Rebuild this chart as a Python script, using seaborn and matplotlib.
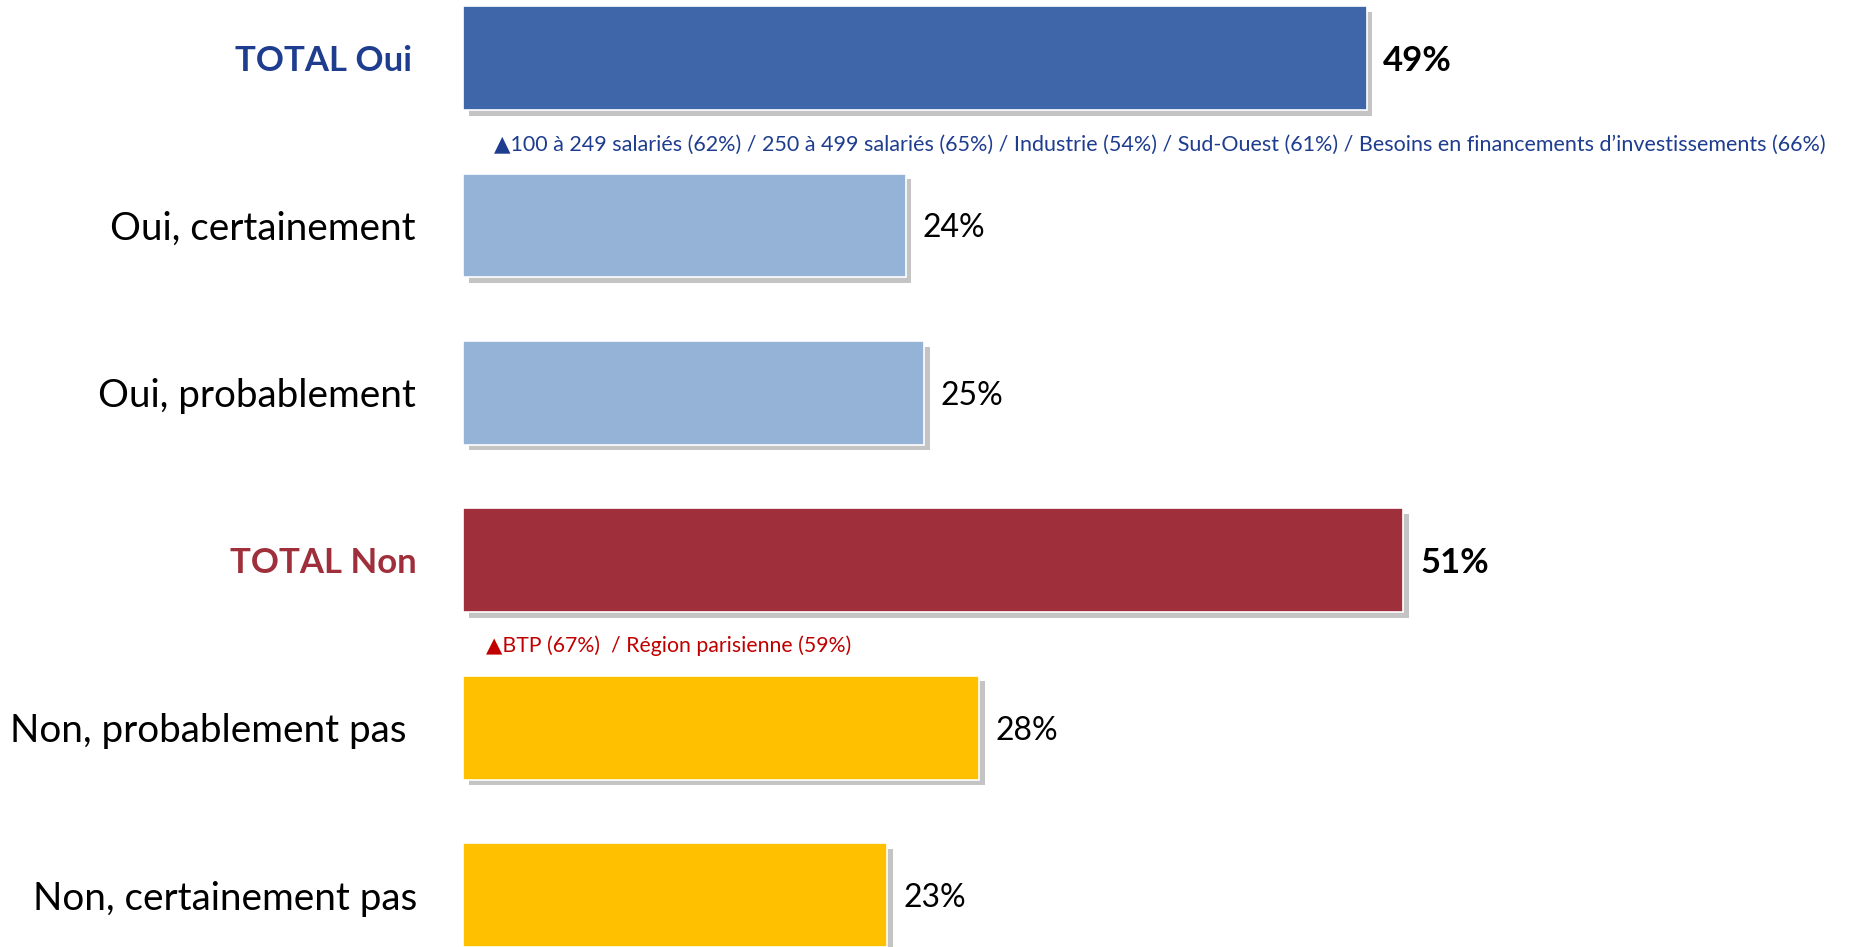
import matplotlib
matplotlib.use("Agg")
import matplotlib.pyplot as plt
import matplotlib.patheffects as pe
import matplotlib.transforms as mtransforms
from matplotlib import font_manager
import seaborn as sns

# --- data ---------------------------------------------------------------
categories = [
    "TOTAL Oui",
    "Oui, certainement",
    "Oui, probablement",
    "TOTAL Non",
    "Non, probablement pas",
    "Non, certainement pas",
]
values = [49, 24, 25, 51, 28, 23]
value_labels = ["49%", "24%", "25%", "51%", "28%", "23%"]
bar_colors = ["#4066AA", "#95B3D7", "#95B3D7", "#9E2F3B", "#FFC000", "#FFC000"]
label_colors = ["#1F3D8F", "black", "black", "#9E2F3B", "black", "black"]
is_total = [True, False, False, True, False, False]

note_oui = ("\u25B2100 à 249 salariés (62%) / 250 à 499 salariés (65%) / Industrie (54%) "
            "/ Sud-Ouest (61%) / Besoins en financements d\u2019investissements (66%)")
note_non = "\u25B2BTP (67%)  / Région parisienne (59%)"

# --- fonts ----------------------------------------------------------------
installed = {f.name for f in font_manager.fontManager.ttflist}
main_font = next((f for f in ["Lato", "Liberation Sans", "Noto Sans"]
                  if f in installed), "DejaVu Sans")

sns.set_theme(style="white")
plt.rcParams["font.family"] = [main_font, "DejaVu Sans"]

W, H, DPI = 1854, 947, 100
fig = plt.figure(figsize=(W / DPI, H / DPI), dpi=DPI)
left_px = 463
ax = fig.add_axes([left_px / W, 0, 1 - left_px / W, 1])

sns.barplot(x=values, y=categories, hue=categories, palette=bar_colors,
            orient="h", width=0.62, legend=False, saturation=1, ax=ax,
            edgecolor="white", linewidth=1.2)

shadow = [pe.SimplePatchShadow(offset=(4, -4), shadow_rgbFace="#C4C4C4", alpha=1.0),
          pe.Normal()]
for p in ax.patches:
    p.set_path_effects(shadow)

px_per_pct = 18.44
ax.set_xlim(0, (W - left_px) / px_per_pct)
ax.set_ylim(5.31, -0.347)

for side in ax.spines.values():
    side.set_visible(False)
ax.set_xticks([])
ax.tick_params(axis="y", length=0, pad=34)
ax.set_yticks(range(len(categories)))
ax.set_yticklabels(categories)

# small horizontal nudges (in pixels) for individual category labels
label_nudge_px = [-4, 0, 0, 1, -9, 1]
for lab, col, tot, dx in zip(ax.get_yticklabels(), label_colors, is_total, label_nudge_px):
    lab.set_color(col)
    lab.set_fontsize(25 if tot else 27.8)
    lab.set_fontweight("bold" if tot else "normal")
    lab.set_transform(lab.get_transform()
                      + mtransforms.Affine2D().translate(dx, 0))

for i, (v, txt, tot) in enumerate(zip(values, value_labels, is_total)):
    ax.text(v + 0.9, i, txt, va="center_baseline", ha="left",
            fontsize=25 if tot else 23,
            fontweight="bold" if tot else "normal", color="black")

ax.text(1.68, 0.508, note_oui, va="center_baseline", ha="left", fontsize=15.5,
        color="#1F3D8F")
ax.text(1.25, 3.50, note_non, va="center_baseline", ha="left", fontsize=15.3,
        color="#C00000")

fig.savefig("out.png", dpi=DPI)
